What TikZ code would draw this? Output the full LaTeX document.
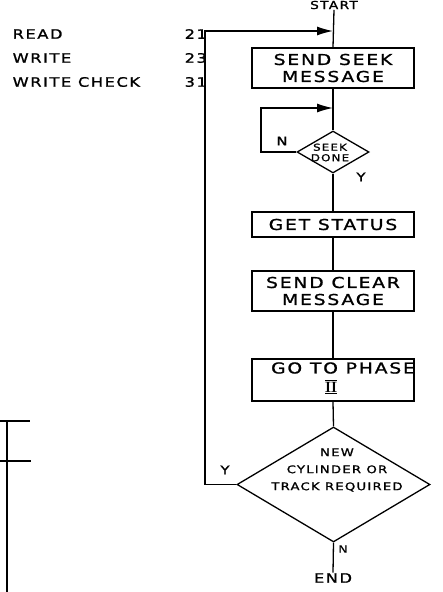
\documentclass[tikz,border=0pt]{standalone}
\usepackage{fontspec}
\usetikzlibrary{shapes.geometric,arrows.meta}
\newfontfamily\hand[LetterSpace=12,FakeStretch=1.25,FakeBold=1.2]{DejaVu Sans}
\begin{document}
\begin{tikzpicture}[x=1pt,y=-1pt,
  line width=1.3pt,
  every node/.style={font=\hand},
  box/.style={draw,line width=1.6pt,rectangle,minimum width=162pt,inner sep=0pt,align=center,font=\hand\fontsize{15}{17}\selectfont},
  dia/.style={draw,line width=1.3pt,diamond,inner sep=0pt},
  lbl/.style={font=\hand\fontsize{13}{15}\selectfont,inner sep=0pt,anchor=west},
  yn/.style={font=\hand\fontsize{12}{14}\selectfont,inner sep=0pt},
  arr/.style={-{Latex[length=16pt,width=9pt]}}]
\useasboundingbox (0,0) rectangle (442,592);
% left list
\node[lbl] (rd) at (12,34) {READ};
\node[lbl] (wr) at (12,58) {WRITE};
\node[lbl] (wc) at (12,82) {WRITE CHECK};
\node[lbl] (n21) at (184,34) {21};
\node[lbl] (n23) at (184,58) {23};
\node[lbl] (n31) at (184,82) {31};
% flowchart nodes
\node[font=\hand\fontsize{11}{13}\selectfont,inner sep=0pt] (start) at (334,5) {START};
\node[box,minimum height=40pt] (b1) at (333,68) {SEND SEEK\\MESSAGE};
\node[dia,minimum width=72pt,minimum height=42pt] (sd) at (333,152) {};
\node[font=\hand\fontsize{9.5}{10.5}\selectfont,align=center,inner sep=0pt] (sdt) at (330,152.5) {SEEK\\DONE};
\node[box,minimum height=25pt] (b2) at (333,224.5) {GET STATUS};
\node[box,minimum height=40pt] (b3) at (333,291) {SEND CLEAR\\MESSAGE};
\node[box,minimum height=42pt] (b4) at (333,380) {};
\node[font=\hand\fontsize{15}{17}\selectfont,inner sep=0pt] (b4a) at (343,368) {GO TO PHASE};
\node[font=\fontsize{15}{17}\selectfont,inner sep=0pt] (b4b) at (331,387) {$\overline{\underline{\mathbf{II}}}$};
\node[dia,minimum width=193pt,minimum height=115pt] (bd) at (333.5,484.5) {};
\node[font=\hand\fontsize{10.5}{17}\selectfont,align=center,inner sep=0pt] (bdt) at (337,470) {NEW\\CYLINDER OR\\TRACK REQUIRED};
\node[font=\hand\fontsize{13}{15}\selectfont,inner sep=0pt] (endn) at (333,578) {END};
% labels
\node[yn] (ln) at (282,141) {N};
\node[yn] (ly) at (361,177) {Y};
\node[yn] (ly2) at (225,470) {Y};
\node[yn,font=\hand\fontsize{10}{12}\selectfont] (ln2) at (343,549) {N};
% coordinates
\coordinate (j1) at (333,31);
\coordinate (j2) at (333,108);
\coordinate (lx) at (205,0);
\coordinate (sx) at (261,0);
% connectors
\draw (start.south) -- (b1.north);
\draw (b1.south) -- (sd.north);
\draw (sd.south) -- (b2.north);
\draw (b2.south) -- (b3.north);
\draw (b3.south) -- (b4.north);
\draw (b4.south) -- (bd.north);
\draw (bd.south) -- (endn.north);
\draw[arr] (sd.west) -- (sd.west -| sx) |- (j2);
\draw[arr] (bd.west) -- (bd.west -| lx) |- (j1);
% table fragment bottom left
\draw[line width=1.5pt] (0,421) -- (30,421);
\draw[line width=1.5pt] (0,461) -- (31,461);
\draw (7,421) -- (7,592);
\end{tikzpicture}
\end{document}
